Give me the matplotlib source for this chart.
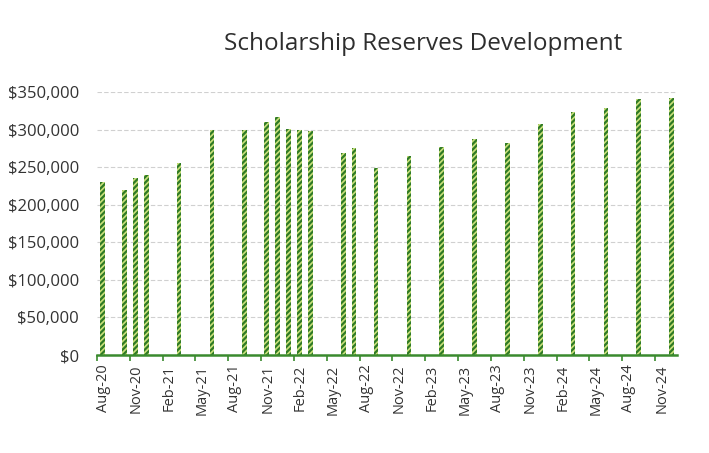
import matplotlib
matplotlib.use("Agg")
import matplotlib.pyplot as plt
from matplotlib.ticker import FuncFormatter, FixedLocator

MONTHS = ["Jan", "Feb", "Mar", "Apr", "May", "Jun", "Jul", "Aug", "Sep", "Oct", "Nov", "Dec"]

# Data
bar_months = ["Aug-20", "Oct-20", "Nov-20", "Dec-20", "Mar-21", "Jun-21", "Sep-21",
              "Nov-21", "Dec-21", "Jan-22", "Feb-22", "Mar-22", "Jun-22", "Jul-22",
              "Sep-22", "Dec-22", "Mar-23", "Jun-23", "Sep-23", "Dec-23", "Mar-24",
              "Jun-24", "Sep-24", "Dec-24"]
reserves = [230000, 219000, 235000, 240000, 256000, 300000, 300000,
            310000, 317000, 301000, 299000, 298000, 269000, 275000,
            249000, 265000, 277000, 287000, 282000, 307000, 324000,
            328000, 341000, 342000]
tick_labels = ["Aug-20", "Nov-20", "Feb-21", "May-21", "Aug-21", "Nov-21", "Feb-22",
               "May-22", "Aug-22", "Nov-22", "Feb-23", "May-23", "Aug-23", "Nov-23",
               "Feb-24", "May-24", "Aug-24", "Nov-24"]
y_ticks = [0, 50000, 100000, 150000, 200000, 250000, 300000, 350000]
title = "Scholarship Reserves Development"
start_label = "Aug-20"
end_label = "Dec-24"


def month_index(lbl):
    m, y = lbl.split("-")
    return (2000 + int(y)) * 12 + MONTHS.index(m)


base = month_index(start_label)
n_months = month_index(end_label) - base + 1

plt.rcParams['font.family'] = ['Open Sans', 'DejaVu Sans']
plt.rcParams['hatch.linewidth'] = 1.6

fig = plt.figure(figsize=(7.09, 4.53), dpi=100)
ax = fig.add_axes([0.1368, 0.2163, 0.8181, 0.5807])

green = "#3a8a2e"
text_col = "#333333"
xs = [month_index(m) - base + 0.5 for m in bar_months]
ax.bar(xs, reserves, width=0.42, color="#c9e07a", edgecolor="#2f7a26",
       linewidth=0, hatch="//////", zorder=3)

ax.set_xlim(0, n_months)
ax.set_ylim(0, 350000)

# tick marks at month boundaries, labels at month centres
tick_pos = [month_index(t) - base for t in tick_labels]
ax.xaxis.set_major_locator(FixedLocator(tick_pos))
ax.xaxis.set_major_formatter(FuncFormatter(lambda v, p: ""))
ax.xaxis.set_minor_locator(FixedLocator([p + 0.6 for p in tick_pos]))
ax.set_xticklabels(tick_labels, minor=True, rotation=90, fontsize=10.5, color=text_col)
ax.tick_params(axis="x", which="major", length=4, width=1.2, color=green, direction="out")
ax.tick_params(axis="x", which="minor", length=0, pad=7)

ax.set_yticks(y_ticks)
ax.yaxis.set_major_formatter(FuncFormatter(lambda v, p: "$0" if v == 0 else f"${v:,.0f}"))
ax.tick_params(axis="y", length=0, labelsize=12, labelcolor=text_col, pad=13)

ax.grid(axis="y", color="#d0d0d0", linewidth=0.8, linestyle=(0, (4, 2)), zorder=0)
for s in ["top", "right", "left"]:
    ax.spines[s].set_visible(False)
ax.spines["bottom"].set_color(green)
ax.spines["bottom"].set_linewidth(1.8)
ax.spines["bottom"].set_zorder(4)

fig.text(0.597, 0.902, title, ha="center", va="center", fontsize=17.5,
         color="#2e2e2e", fontweight="medium")

fig.savefig("out.png", dpi=100, facecolor="white")
